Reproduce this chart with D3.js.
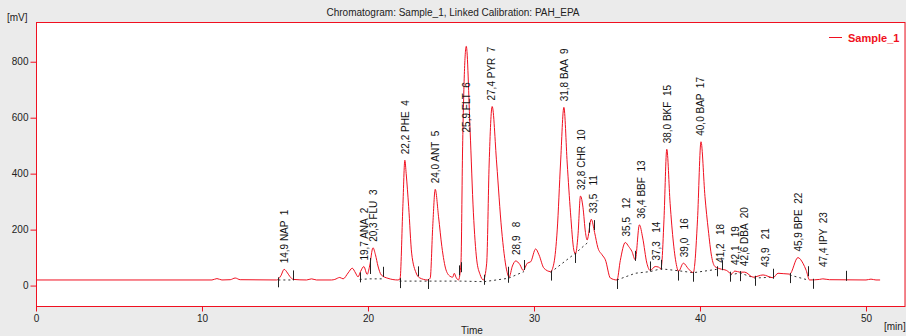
<!DOCTYPE html>
<html>
<head>
<meta charset="utf-8">
<script src="https://cdn.jsdelivr.net/npm/d3@7"></script>
<style>
  body { margin: 0; background: #ebebeb; }
  svg { display: block; font-family: "Liberation Sans", Arial, sans-serif; }
  .tick text { fill: #222; font-size: 10px; }
  .peakLabel { font-size: 10px; fill: #111; white-space: pre; }
</style>
</head>
<body>
<div id="chart"></div>
<script>
// trace: time [min], signal [mV]
const traceTime = [0, 10.6, 10.9, 11.2, 11.7, 12.0, 12.3, 14.5, 14.75, 14.95, 15.15, 15.3, 15.5, 16.3, 16.6, 16.9,
  17.8, 18.0, 18.3, 18.5, 18.8, 19.05, 19.25, 19.4, 19.55, 19.75, 19.95, 20.1, 20.3, 20.45, 20.6, 20.8, 21.2,
  21.8, 21.93, 22.1, 22.22, 22.3, 22.45, 22.63, 22.9, 23.1, 23.6, 23.75, 23.9, 24.05, 24.25, 24.45, 24.7, 24.95,
  25.1, 25.2, 25.3, 25.45, 25.6, 25.7, 25.92, 26.15, 26.35, 26.55, 26.75, 26.95, 27.15, 27.3, 27.48, 27.75,
  28.05, 28.35, 28.5, 28.7, 28.9, 29.15, 29.35, 29.6, 29.8, 30.1, 30.3, 30.6, 31.0, 31.2, 31.4, 31.6, 31.8,
  32.0, 32.2, 32.4, 32.5, 32.65, 32.8, 32.95, 33.1, 33.2, 33.45, 33.65, 33.85, 34.1, 34.3, 34.6, 35.0, 35.2,
  35.5, 35.7, 35.9, 36.1, 36.35, 36.55, 36.8, 37.0, 37.3, 37.5, 37.65, 37.7, 37.83, 38.0, 38.2, 38.4, 38.6,
  38.7, 39.0, 39.3, 39.6, 39.67, 39.85, 40.06, 40.3, 40.5, 40.7, 40.9, 41.2, 41.6, 41.9, 42.1, 42.4, 42.7,
  43.2, 43.8, 44.4, 44.7, 45.4, 45.9, 46.2, 46.4, 46.6, 47.2, 47.4, 47.8, 50.0, 50.3, 50.6, 50.85];
const traceMv = [20, 20, 25, 20, 21, 27, 21, 20, 35, 58, 45, 32, 22, 20, 24, 20,
  20, 22, 29, 24, 45, 62, 45, 31, 50, 68, 40, 70, 135, 110, 70, 38, 26,
  20, 24, 282, 448, 400, 282, 116, 45, 28, 20, 27, 211, 344, 246, 139, 56, 33,
  30, 44, 30, 20, 80, 496, 855, 556, 260, 92, 40, 20, 80, 438, 640, 438,
  199, 56, 30, 70, 88, 75, 54, 80, 85, 131, 110, 62, 50, 80, 199, 438, 637,
  438, 260, 127, 113, 180, 320, 280, 190, 163, 237, 190, 135, 110, 92, 27, 20, 90,
  154, 140, 122, 92, 217, 170, 80, 54, 68, 66, 60, 80, 235, 487, 294, 152, 68,
  50, 80, 60, 46, 68, 235, 514, 318, 199, 104, 68, 60, 54, 42, 52, 48, 48,
  30, 38, 28, 44, 41, 100, 80, 54, 20, 22, 24, 21, 20, 23, 20, 20];

// identified peaks
const peakTime = [14.9, 19.7, 20.3, 22.2, 24.0, 25.9, 27.4, 28.9, 31.8, 32.8, 33.5, 35.5, 36.4, 37.3, 38.0,
  39.0, 40.0, 41.2, 42.1, 42.6, 43.9, 45.9, 47.4];
const peakName = ["NAP", "ANA", "FLU", "PHE", "ANT", "FLT", "PYR", "", "BAA", "CHR", "", "", "BBF", "", "BKF",
  "", "BAP", "", "", "DBA", "", "BPE", "IPY"];
const peakHeight = [58, 68, 135, 448, 344, 855, 640, 88, 637, 320, 237, 154, 217, 68, 487,
  80, 514, 60, 52, 48, 38, 100, 24];

// integration baselines (dashed) and peak start/end marks
const baseSegments = [
  [[14.6, 20], [15.5, 20]],
  [[19.5, 22], [20.1, 24], [20.9, 24]],
  [[21.9, 16], [23.0, 16], [25.6, 16], [27.0, 14]],
  [[27.0, 14], [28.45, 26], [29.4, 50]],
  [[31.0, 47], [32.5, 116], [33.3, 157]],
  [[35.0, 20], [36.1, 44], [37.0, 50], [37.65, 60], [38.7, 53], [39.6, 46], [41.0, 58]],
  [[41.8, 38], [42.4, 45], [43.3, 27], [44.4, 30]],
  [[45.4, 38], [46.5, 20]]
];
const markTime = [14.6, 15.5, 19.5, 20.1, 20.9, 21.9, 23.0, 23.6, 25.5, 25.6, 27.0, 28.45, 29.4, 31.0, 32.5,
  33.3, 33.6, 35.0, 36.1, 37.0, 37.65, 38.7, 39.6, 41.0, 41.3, 41.8, 42.4, 43.3, 44.4, 45.4, 46.5, 46.8, 48.8];
const markDir = [-1, 1, -1, 0, 1, -1, 1, -1, 1, -1, -1, 0, 1, -1, -1,
  1, 1, -1, 1, 1, 1, -1, -1, -1, 1, -1, -1, -1, 1, -1, 1, -1, 1];

const xTicks = [0, 10, 20, 30, 40, 50];
const yTicks = [0, 200, 400, 600, 800];

const width = 906, height = 336;
const plotLeft = 36, plotRight = 905, plotTop = 22, plotBottom = 306;
const lineColour = "#f01020";

const svg = d3.select("#chart").append("svg")
    .attr("width", width)
    .attr("height", height);

svg.append("rect").attr("width", width).attr("height", height).attr("fill", "#ebebeb");

const x = d3.scaleLinear().domain([0, 52.35]).range([plotLeft, plotRight]);
const y = d3.scaleLinear().domain([-73, 942]).range([plotBottom, plotTop]);

// title
svg.append("text")
    .attr("x", 453).attr("y", 16)
    .attr("text-anchor", "middle")
    .style("font-size", "10px").style("fill", "#222")
    .text("Chromatogram: Sample_1, Linked Calibration: PAH_EPA");
svg.append("text")
    .attr("x", 7).attr("y", 21)
    .style("font-size", "10px").style("fill", "#222")
    .text("[mV]");

// plot frame
svg.append("rect")
    .attr("x", plotLeft + 0.5).attr("y", plotTop + 0.5)
    .attr("width", plotRight - plotLeft - 0.5).attr("height", plotBottom - plotTop)
    .attr("fill", "white").attr("stroke", lineColour);

// axes
const yAxis = svg.append("g")
    .attr("transform", "translate(" + (plotLeft + 0.5) + ",0)")
    .call(d3.axisLeft(y).tickValues(yTicks).tickSize(6).tickPadding(2));
const xAxis = svg.append("g")
    .attr("transform", "translate(0," + (plotBottom + 0.5) + ")")
    .call(d3.axisBottom(x).tickValues(xTicks).tickSize(5).tickPadding(3));
[yAxis, xAxis].forEach((g) => {
    g.select(".domain").remove();
    g.selectAll(".tick line").attr("stroke", lineColour);
});
svg.append("text")
    .attr("x", 884).attr("y", 330)
    .style("font-size", "10px").style("fill", "#222")
    .text("[min]");
svg.append("text")
    .attr("x", 472).attr("y", 334)
    .attr("text-anchor", "middle")
    .style("font-size", "10px").style("fill", "#222")
    .text("Time");

svg.append("clipPath").attr("id", "plotClip")
  .append("rect")
    .attr("x", plotLeft + 1).attr("y", plotTop + 1)
    .attr("width", plotRight - plotLeft - 1).attr("height", plotBottom - plotTop - 1);
const plot = svg.append("g").attr("clip-path", "url(#plotClip)");

const trace = traceTime.map((t, i) => [t, traceMv[i]]);
const valueAt = (t) => {
    const i = Math.max(1, Math.min(trace.length - 1, d3.bisectLeft(traceTime, t)));
    const a = trace[i - 1], b = trace[i];
    return a[1] + (b[1] - a[1]) * (t - a[0]) / (b[0] - a[0]);
};

// dashed baselines
const line = d3.line().x((d) => x(d[0])).y((d) => y(d[1]));
plot.selectAll(".base")
    .data(baseSegments).enter()
    .append("path")
    .attr("class", "base")
    .attr("d", line)
    .attr("fill", "none")
    .attr("stroke", "#333")
    .attr("stroke-width", 1)
    .attr("stroke-dasharray", "2,3");

// trace
plot.append("path")
    .datum(trace)
    .attr("d", d3.line().x((d) => x(d[0])).y((d) => y(d[1])).curve(d3.curveMonotoneX))
    .attr("fill", "none")
    .attr("stroke", lineColour)
    .attr("stroke-width", 1);

// start / end marks
plot.selectAll(".mark")
    .data(markTime).enter()
    .append("line")
    .attr("class", "mark")
    .attr("x1", (d) => Math.round(x(d)) + 0.5)
    .attr("x2", (d) => Math.round(x(d)) + 0.5)
    .attr("y1", (d, i) => y(valueAt(d)) + (markDir[i] > 0 ? -9 : markDir[i] < 0 ? -1 : -8))
    .attr("y2", (d, i) => y(valueAt(d)) + (markDir[i] > 0 ? 1 : markDir[i] < 0 ? 9 : 8))
    .attr("stroke", "#222")
    .attr("stroke-width", 1);

// peak labels
const labelText = (d, i) => d.toFixed(1).replace(".", ",") + " " + peakName[i] + "  " + (i + 1);
plot.selectAll(".peakLabel")
    .data(peakTime).enter()
    .append("text")
    .attr("class", "peakLabel")
    .attr("transform", (d, i) => {
        let start = Math.min(y(peakHeight[i]) - 6, 267);
        if (start - 60 < plotTop) start = y(peakHeight[i] * 0.64);
        return "translate(" + (x(d) + 1) + "," + start + ") rotate(-90)";
    })
    .attr("dy", "0.35em")
    .text(labelText);

// legend
svg.append("line")
    .attr("x1", 829).attr("x2", 842).attr("y1", 37.5).attr("y2", 37.5)
    .attr("stroke", lineColour);
svg.append("text")
    .attr("x", 848).attr("y", 41.5)
    .style("font-size", "11px").style("font-weight", "bold").style("fill", lineColour)
    .text("Sample_1");
</script>
</body>
</html>
